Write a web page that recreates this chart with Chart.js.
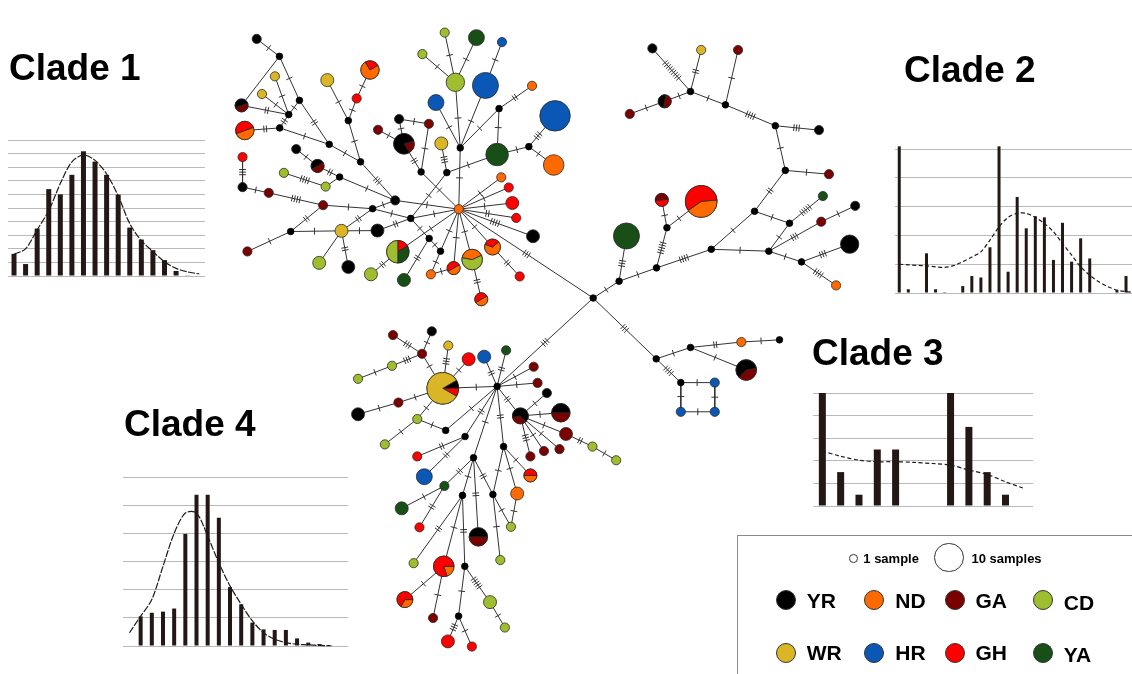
<!DOCTYPE html>
<html>
<head>
<meta charset="utf-8">
<script src="https://cdn.jsdelivr.net/npm/chart.js@4.4.1/dist/chart.umd.min.js"></script>
<style>
  html, body { margin: 0; padding: 0; background: #fff; overflow: hidden; }
  #stage { position: relative; width: 1132px; height: 674px; overflow: hidden;
           font-family: "Liberation Sans", Arial, sans-serif; color: #000; }
  #stage canvas { position: absolute; }
  .title { position: absolute; font-weight: bold; font-size: 37px; line-height: 1; white-space: nowrap; }
  .legend-box { position: absolute; left: 737px; top: 535px; width: 430px; height: 170px;
                border: 1.5px solid #8a8a8a; box-sizing: border-box; }
  .sw { position: absolute; border-radius: 50%; box-sizing: border-box; border: 1px solid #333; }
  .lab { position: absolute; font-weight: bold; white-space: nowrap; line-height: 1; }
</style>
</head>
<body>
<div id="stage">
  <canvas id="network" width="1132" height="674" style="left:0;top:0"></canvas>
  <canvas id="mm1"></canvas>
  <canvas id="mm2"></canvas>
  <canvas id="mm3"></canvas>
  <canvas id="mm4"></canvas>
  <div class="title" style="left:9px;top:49px">Clade 1</div>
  <div class="title" style="left:904px;top:51px">Clade 2</div>
  <div class="title" style="left:812px;top:334px">Clade 3</div>
  <div class="title" style="left:124px;top:405px">Clade 4</div>
  <div class="legend-box"></div>
  <div id="legend"></div>
</div>
<script>
// ---------- populations ----------
const populations = ['YR', 'ND', 'GA', 'CD', 'WR', 'HR', 'GH', 'YA'];
const popColors   = ['#000000', '#ff6a00', '#7b0000', '#9fbe2f', '#dab626', '#0a57b6', '#ff0000', '#174f17'];

// ---------- mismatch distributions (observed bars, expected curve) ----------
const clade1Observed = [1.63, 0.88, 3.49, 6.39, 6.0, 7.44, 9.17, 8.41, 7.44, 5.98, 3.56, 2.68, 1.9, 1.17, 0.37, 0.05, 0];
const clade1Expected = [1.6, 2.0, 3.4, 4.8, 6.8, 8.4, 8.9, 8.5, 7.5, 5.9, 3.85, 2.6, 1.8, 1.05, 0.56, 0.3, 0.15];

const clade2Observed = [5.1, 0.13, 0, 1.38, 0.13, 0.03, 0, 0.24, 0.59, 0.54, 1.59, 5.1, 0.74, 3.34, 2.25, 2.67, 2.63, 1.15, 2.44, 1.09, 1.9, 1.2, 0, 0, 0.1, 0.59];
const clade2Expected = [1.0, 0.98, 0.96, 0.94, 0.91, 0.89, 0.95, 1.09, 1.25, 1.43, 1.84, 2.3, 2.63, 2.77, 2.77, 2.63, 2.42, 2.13, 1.72, 1.32, 0.91, 0.62, 0.39, 0.22, 0.1, 0.05, 0.02];

const clade3Observed = [5, 1.5, 0.5, 2.5, 2.5, 0, 0, 5, 3.5, 1.5, 0.5, 0];
const clade3Expected = [2.43, 2.2, 2.03, 1.96, 1.96, 1.93, 1.88, 1.81, 1.59, 1.4, 1.07, 0.78];

const clade4Observed = [0, 1.05, 1.18, 1.22, 1.33, 3.98, 5.37, 5.37, 4.55, 2.09, 1.48, 0.83, 0.59, 0.57, 0.57, 0.27, 0.12, 0.07, 0.03];
const clade4Expected = [0.47, 1.06, 1.65, 2.83, 4.0, 4.72, 4.72, 3.9, 2.95, 2.13, 1.48, 0.89, 0.47, 0.24, 0.12, 0.06, 0.04, 0.02, 0.01];

// ---------- haplotype network: layout coordinates and sample counts ----------
const rootVector = [['root', 594, 296]];

const clade1Medians = [
  ['m1a', 416.7, 163.3], ['m1b', 443.2, 164], ['m1c', 406, 212.2], ['m1d', 425, 233.3], ['m1e', 436.7, 246.7],
  ['m1f', 457, 138], ['m1g', 497, 96.7], ['m1h', 527.7, 136.7], ['m1i', 366.7, 202], ['m1j', 354.3, 152.7],
  ['m1k', 341.7, 109.3], ['m1l', 322, 134.3], ['m1m', 332.7, 168.7], ['m1n', 282.3, 226], ['m1o', 271, 117],
  ['m1p', 280.3, 103], ['m1q', 291.3, 88], ['m1r', 270.7, 41.7]
];
const clade1Haplotypes = [
  ['c1hub', 455.5, 202.5, {ND: 1}],
  ['a1', 441, 16.7, {CD: 1}], ['a2', 473.7, 22, {YA: 3}], ['a3', 500, 26.7, {HR: 1}], ['a4', 418, 39.3, {CD: 1}],
  ['a5', 452, 69, {CD: 4}], ['a6', 483, 72.3, {HR: 8}], ['a7', 531, 72.7, {ND: 1}], ['a8', 432, 90.3, {HR: 3}],
  ['a9', 554.7, 104.3, {HR: 11}], ['a10', 394, 107.7, {YR: 1}], ['a11', 424.7, 112.7, {GA: 1}],
  ['a12', 399, 133.7, {GA: 1, YR: 4}], ['a13', 437.5, 133.3, {WR: 2}], ['a14', 495, 145, {YA: 6}],
  ['a15', 553.3, 156, {ND: 5}], ['a16', 499.3, 169, {ND: 1}], ['a17', 507, 179.7, {GH: 1}],
  ['a18', 390, 193.3, {YR: 1}], ['a19', 510.7, 196, {GH: 2}], ['a20', 514.7, 211.7, {GH: 1}],
  ['a21', 532, 231, {YR: 2}], ['a22', 392.7, 247.3, {GH: 1, YA: 2, CD: 3}], ['a23', 490.3, 242.3, {ND: 2, GH: 1}],
  ['a24', 469.3, 255.5, {CD: 3, ND: 2}], ['a25', 399, 277, {YA: 2}], ['a26', 426.7, 271, {ND: 1}],
  ['a27', 450.2, 264.5, {ND: 1, GH: 1}], ['a28', 518.3, 273.3, {GH: 1}], ['a29', 478.7, 297.3, {ND: 1, GH: 1}],
  ['a30', 372.3, 119, {GA: 1}], ['a31', 364, 56, {ND: 3, GH: 1}], ['a32', 350.3, 86, {GH: 1}],
  ['a33', 320, 66.7, {WR: 2}], ['a34', 288, 139.3, {YR: 1}], ['a35', 310, 157, {GA: 1, YR: 1}],
  ['a36', 275.3, 164.3, {CD: 1}], ['a37', 318.3, 178.7, {CD: 1}], ['a38', 232.7, 147.7, {GH: 1}],
  ['a39', 232.7, 179.3, {YR: 1}], ['a40', 259.7, 185.3, {GA: 1}], ['a41', 315.7, 198.3, {GA: 1}],
  ['a42', 334.7, 225.3, {WR: 2}], ['a43', 371.7, 225, {YR: 2}], ['a44', 237.7, 247, {GA: 1}],
  ['a45', 311.7, 259, {CD: 2}], ['a46', 341.7, 263.3, {YR: 2}], ['a47', 365, 271, {CD: 2}],
  ['a48', 247.3, 23.3, {YR: 1}], ['a49', 266, 62.7, {WR: 1}], ['a50', 252.7, 81.3, {WR: 1}],
  ['a51', 231.7, 93.3, {GA: 1, YR: 1}], ['a52', 235, 119.7, {ND: 2, GH: 2}]
];
const clade1Links = [
  ['c1hub', 'm1f', 1], ['m1f', 'a5', 1], ['a5', 'a1', 1], ['a5', 'a2', 1], ['a5', 'a4', 1], ['m1f', 'a8', 1],
  ['m1f', 'a6', 1], ['a6', 'a3', 1], ['m1f', 'm1g', 1], ['m1g', 'a7', 2], ['m1g', 'a14', 1], ['a14', 'm1h', 1],
  ['m1h', 'a9', 3], ['m1h', 'a15', 1], ['a14', 'm1b', 1], ['m1b', 'a13', 3], ['m1b', 'm1c', 1],
  ['m1a', 'c1hub', 1], ['m1a', 'a11', 1], ['m1a', 'a12', 2], ['a12', 'a10', 1], ['a10', 'a11', 1], ['a12', 'a30', 1],
  ['c1hub', 'a16', 1], ['c1hub', 'a17', 1], ['c1hub', 'a19', 1], ['c1hub', 'a20', 2], ['c1hub', 'a21', 4],
  ['c1hub', 'a23', 1], ['a23', 'a28', 2], ['c1hub', 'a24', 1], ['a24', 'a29', 2], ['c1hub', 'a27', 1],
  ['a27', 'a26', 1], ['a26', 'm1e', 1], ['m1e', 'c1hub', 1], ['m1e', 'm1d', 1], ['m1d', 'm1c', 1],
  ['m1c', 'c1hub', 1], ['m1d', 'a25', 2], ['c1hub', 'a22', 1], ['a22', 'a47', 2], ['c1hub', 'a18', 1],
  ['a18', 'm1i', 1], ['m1i', 'm1c', 1], ['m1i', 'a41', 1], ['a18', 'm1j', 3], ['m1j', 'm1k', 1], ['m1j', 'm1l', 1],
  ['m1k', 'a32', 1], ['a32', 'a31', 1], ['m1k', 'a33', 1], ['m1l', 'm1o', 1], ['m1l', 'm1q', 2],
  ['m1o', 'a52', 2], ['m1o', 'm1p', 2], ['m1p', 'a51', 2], ['m1p', 'a50', 1], ['m1p', 'a49', 1], ['m1p', 'm1q', 1],
  ['m1r', 'm1q', 1], ['m1r', 'a48', 1], ['m1r', 'a51', 0], ['a18', 'm1m', 1], ['m1m', 'a35', 2], ['a35', 'a34', 1],
  ['m1m', 'a37', 0], ['a37', 'a36', 4], ['a38', 'a39', 3], ['a39', 'a40', 1], ['a40', 'a41', 4], ['a41', 'm1n', 2],
  ['m1n', 'a44', 1], ['m1n', 'a42', 1], ['a42', 'm1i', 2], ['a42', 'a43', 1], ['a43', 'm1c', 2], ['a42', 'a45', 0],
  ['a42', 'a46', 2], ['c1hub', 'root', 3]
];

const clade2Medians = [
  ['m2a', 694.3, 78.7], ['m2b', 730.3, 92.7], ['m2c', 781.7, 114.7], ['m2d', 792, 161.7], ['m2e', 760.3, 204.7],
  ['m2f', 796.3, 217.3], ['m2g', 715.7, 244.7], ['m2h', 775, 246.7], ['m2i', 808.7, 258], ['m2j', 659.3, 264.3],
  ['m2k', 670, 222], ['m2l', 620.7, 278.3]
];
const clade2Haplotypes = [
  ['b1', 655, 33.3, {YR: 1}], ['b2', 705.3, 35, {WR: 1}], ['b3', 743.3, 35, {GA: 1}],
  ['b4', 667.7, 89, {GA: 1, YR: 1}], ['b5', 631.7, 102.3, {GA: 1}], ['b6', 826.7, 119.3, {YR: 1}],
  ['b7', 837, 165.7, {GA: 1}], ['b8', 830.7, 188.7, {YA: 1}], ['b9', 864, 199, {YR: 1}],
  ['b10', 829, 215.7, {GA: 1}], ['b11', 858.3, 239.3, {YR: 4}], ['b12', 844.3, 282.7, {ND: 1}],
  ['b13', 664.7, 192.7, {GH: 1, GA: 1}], ['b14', 705.3, 194.3, {ND: 5, GH: 7}], ['b15', 628.3, 230.7, {YA: 8}]
];
const clade2Links = [
  ['b1', 'm2a', 9], ['b2', 'm2a', 2], ['m2a', 'b4', 1], ['b4', 'b5', 1], ['m2a', 'm2b', 1], ['b3', 'm2b', 1],
  ['m2b', 'm2c', 4], ['m2c', 'b6', 3], ['m2c', 'm2d', 1], ['m2d', 'b7', 1], ['m2d', 'm2e', 2], ['m2e', 'm2f', 1],
  ['m2f', 'b8', 5], ['m2f', 'm2h', 1], ['m2e', 'm2g', 1], ['m2g', 'm2h', 1], ['m2h', 'b10', 3], ['b10', 'b9', 1],
  ['m2h', 'm2i', 1], ['m2i', 'b11', 3], ['m2i', 'b12', 4], ['m2g', 'm2j', 4], ['m2j', 'm2k', 5], ['m2k', 'b13', 1],
  ['m2k', 'b14', 1], ['m2j', 'm2l', 1], ['m2l', 'b15', 3], ['m2l', 'root', 1]
];

const clade3Medians = [['m3a', 659, 360], ['m3b', 694.3, 348], ['m3c', 684.3, 385], ['m3d', 786, 340]];
const clade3Haplotypes = [
  ['c1', 746.7, 342.3, {ND: 1}], ['c2', 751.7, 371.7, {GA: 2, YR: 3}], ['c3', 719.3, 385, {HR: 1}],
  ['c4', 684.3, 415.7, {HR: 1}], ['c5', 719.3, 415.7, {HR: 1}]
];
const clade3Links = [
  ['root', 'm3a', 3], ['m3a', 'm3b', 1], ['m3b', 'c1', 2], ['c1', 'm3d', 1], ['m3b', 'c2', 1], ['m3a', 'm3c', 4],
  ['m3c', 'c3', 1], ['m3c', 'c4', 1], ['c3', 'c5', 1], ['c4', 'c5', 1]
];

const clade4Medians = [
  ['m4a', 495, 389], ['m4b', 442, 435.3], ['m4c', 462, 441.7], ['m4d', 470.7, 464], ['m4e', 459.3, 503.7],
  ['m4f', 501.7, 452.3], ['m4g', 490.7, 502.7], ['m4h', 461.7, 578.3], ['m4i', 455.3, 630.7]
];
const clade4Haplotypes = [
  ['d1', 439, 391, {YR: 1, GH: 1, WR: 10}], ['d2', 444.7, 346, {WR: 1}], ['d3', 465.7, 360.3, {GH: 2}],
  ['d4', 417.7, 354.7, {GA: 1}], ['d5', 427.7, 331, {YR: 1}], ['d6', 387.7, 335, {GA: 1}],
  ['d7', 386.7, 367.3, {CD: 1}], ['d8', 351.7, 381, {CD: 1}], ['d9', 481.7, 357.7, {HR: 2}],
  ['d10', 504.3, 351, {YA: 1}], ['d11', 393.3, 406, {GA: 1}], ['d12', 351.7, 418.3, {YR: 2}],
  ['d13', 412.7, 423.3, {CD: 1}], ['d14', 379.3, 450, {CD: 1}], ['d15', 412.7, 462.7, {GH: 1}],
  ['d16', 420, 484, {HR: 3}], ['d17', 440.7, 493.7, {YA: 1}], ['d18', 396.7, 517.3, {YA: 2}],
  ['d19', 415, 537.3, {GH: 1}], ['d20', 475.7, 547.3, {GA: 2, YR: 2}], ['d21', 409, 575, {CD: 1}],
  ['d22', 440, 578.3, {ND: 1, GH: 4}], ['d23', 487.7, 616, {CD: 2}], ['d24', 503, 642.7, {CD: 1}],
  ['d25', 400, 613.3, {ND: 1, GH: 2}], ['d26', 429, 632.7, {GA: 1}], ['d27', 444.3, 657.3, {GH: 2}],
  ['d28', 469, 662.7, {GH: 1}], ['d29', 532.7, 368.3, {GA: 1}], ['d30', 536.7, 385.3, {GA: 1}],
  ['d31', 546.3, 396, {YR: 1}], ['d32', 519, 420, {GA: 1, YR: 2}], ['d33', 560.7, 416.7, {GA: 2, YR: 2}],
  ['d34', 566, 439, {GA: 2}], ['d35', 529.3, 462.7, {GA: 1}], ['d36', 543.3, 457, {GA: 1}],
  ['d37', 559.3, 455, {GA: 1}], ['d38', 593.3, 452.3, {CD: 1}], ['d39', 617.7, 466.7, {CD: 1}],
  ['d40', 529.3, 482.7, {ND: 1, GH: 1}], ['d41', 515.7, 501.7, {ND: 2}], ['d42', 509.3, 536.7, {CD: 1}],
  ['d43', 498.3, 571.7, {CD: 1}]
];
const clade4Links = [
  ['root', 'm4a', 3], ['m4a', 'd1', 1], ['d1', 'd2', 3], ['d1', 'd3', 1], ['d1', 'd4', 1], ['d4', 'd5', 1],
  ['d4', 'd6', 3], ['d4', 'd7', 3], ['d7', 'd8', 1], ['d1', 'd11', 1], ['d11', 'd12', 1], ['d1', 'd13', 1],
  ['d13', 'd14', 1], ['d13', 'm4b', 1], ['m4b', 'm4a', 1], ['m4a', 'm4c', 2], ['m4c', 'd15', 2], ['m4c', 'd16', 2],
  ['m4a', 'd9', 2], ['m4a', 'd10', 2], ['m4a', 'm4d', 1], ['m4d', 'd17', 2], ['d17', 'd18', 1], ['d17', 'd19', 2],
  ['m4d', 'm4e', 1], ['m4d', 'd20', 2], ['m4d', 'm4g', 2], ['m4e', 'd21', 2], ['m4e', 'd22', 1], ['m4e', 'm4h', 2],
  ['d22', 'd25', 1], ['d22', 'd26', 1], ['m4h', 'd23', 5], ['d23', 'd24', 1], ['m4h', 'm4i', 1], ['m4i', 'd27', 3],
  ['m4i', 'd28', 1], ['m4a', 'd29', 1], ['m4a', 'd30', 1], ['m4a', 'd32', 2], ['d32', 'd31', 1], ['d32', 'd33', 1],
  ['d32', 'd34', 1], ['d32', 'd37', 1], ['d32', 'd36', 1], ['d32', 'd35', 3], ['d34', 'd38', 2], ['d38', 'd39', 1],
  ['m4a', 'm4f', 2], ['m4f', 'd40', 1], ['m4f', 'd41', 1], ['m4f', 'm4g', 1], ['m4g', 'd42', 1], ['d41', 'd42', 1],
  ['m4g', 'd43', 1]
];

// orientation (degrees, clockwise from east) of the first wedge of each mixed haplotype
const pieStartAngle = {
  a12: -15, a22: -90, a23: -40, a24: -25, a27: -30, a29: -30, a31: -30, a35: -30, a51: -20, a52: -20,
  b4: -80, b13: -5, b14: -5, c2: -10,
  d1: -30, d20: 0, d22: 0, d25: 0, d32: 50, d33: 0, d40: 0
};

// ---------- assemble network ----------
const medians = [...rootVector, ...clade1Medians, ...clade2Medians, ...clade3Medians, ...clade4Medians];
const haplotypes = [...clade1Haplotypes, ...clade2Haplotypes, ...clade3Haplotypes, ...clade4Haplotypes];
const links = [...clade1Links, ...clade2Links, ...clade3Links, ...clade4Links];

const ONE_SAMPLE_R = 4.6;   // radius of a single-sample circle; area grows with sample count
const MEDIAN_R = 3.3;
const colorOf = p => popColors[populations.indexOf(p)];
const totalOf = counts => Object.values(counts).reduce((s, v) => s + v, 0);

const nodes = {};
medians.forEach(([id, x, y]) => { nodes[id] = {x, y, r: MEDIAN_R, median: true}; });
haplotypes.forEach(([id, x, y, counts]) => {
  nodes[id] = {x, y, r: ONE_SAMPLE_R * Math.sqrt(totalOf(counts)), counts};
});

const nodeOrder = [...medians.map(m => m[0]), ...haplotypes.map(h => h[0])];
const nodePoints = nodeOrder.map(id => ({x: nodes[id].x, y: nodes[id].y}));
const nodeRadii = nodeOrder.map(id => nodes[id].r);
const nodeFill = nodeOrder.map(id => nodes[id].median ? '#000' : colorOf(Object.keys(nodes[id].counts)[0]));
const nodeStroke = nodeOrder.map(id => nodes[id].median ? '#000' : '#2b2b2b');

const edgePoints = [];
links.forEach(([a, b]) => {
  edgePoints.push({x: nodes[a].x, y: nodes[a].y}, {x: nodes[b].x, y: nodes[b].y}, {x: null, y: null});
});

// mutation steps drawn as short cross-ticks centred on the visible part of each link
const hatchPlugin = {
  id: 'mutationHatches',
  afterDatasetDraw(chart, args) {
    if (args.index !== 0) return;
    const {ctx, scales: {x: xs, y: ys}} = chart;
    ctx.save();
    ctx.strokeStyle = '#333';
    ctx.lineWidth = 1;
    links.forEach(([a, b, n]) => {
      if (!n) return;
      const A = nodes[a], B = nodes[b];
      const ax = xs.getPixelForValue(A.x), ay = ys.getPixelForValue(A.y);
      const bx = xs.getPixelForValue(B.x), by = ys.getPixelForValue(B.y);
      const L = Math.hypot(bx - ax, by - ay);
      const ux = (bx - ax) / L, uy = (by - ay) / L;
      const mid = (A.r + (L - B.r)) / 2;
      const gap = 2.6, half = 3.4;
      for (let j = 0; j < n; j++) {
        const t = mid + (j - (n - 1) / 2) * gap;
        const cx = ax + ux * t, cy = ay + uy * t;
        ctx.beginPath();
        ctx.moveTo(cx - uy * half, cy + ux * half);
        ctx.lineTo(cx + uy * half, cy - ux * half);
        ctx.stroke();
      }
    });
    ctx.restore();
  }
};

// haplotypes shared by several populations are split into wedges
const piePlugin = {
  id: 'haplotypePies',
  afterDatasetsDraw(chart) {
    const {ctx, scales: {x: xs, y: ys}} = chart;
    ctx.save();
    haplotypes.forEach(([id, , , counts]) => {
      const parts = Object.entries(counts);
      if (parts.length < 2) return;
      const nd = nodes[id];
      const cx = xs.getPixelForValue(nd.x), cy = ys.getPixelForValue(nd.y);
      const total = totalOf(counts);
      let ang = (pieStartAngle[id] || 0) * Math.PI / 180;
      parts.forEach(([pop, c]) => {
        const sweep = c / total * Math.PI * 2;
        ctx.beginPath();
        ctx.moveTo(cx, cy);
        ctx.arc(cx, cy, nd.r, ang, ang + sweep);
        ctx.closePath();
        ctx.fillStyle = colorOf(pop);
        ctx.fill();
        ctx.strokeStyle = '#2b2b2b';
        ctx.lineWidth = 0.8;
        ctx.stroke();
        ang += sweep;
      });
    });
    ctx.restore();
  }
};

new Chart(document.getElementById('network'), {
  type: 'scatter',
  data: {
    datasets: [
      {data: edgePoints, showLine: true, spanGaps: false, borderColor: '#333', borderWidth: 1,
       pointRadius: 0, order: 2, clip: false},
      {data: nodePoints, pointRadius: nodeRadii, pointBackgroundColor: nodeFill, pointBorderColor: nodeStroke,
       pointBorderWidth: 0.8, order: 1, clip: false}
    ]
  },
  options: {
    responsive: false, animation: false, events: [],
    layout: {padding: 0},
    plugins: {legend: {display: false}, tooltip: {enabled: false}},
    scales: {
      x: {type: 'linear', min: 0, max: 1132, display: false},
      y: {type: 'linear', min: 0, max: 674, reverse: true, display: false}
    }
  },
  plugins: [hatchPlugin, piePlugin]
});

// ---------- mismatch distribution panels ----------
function mismatchPanel(id, box, xRange, yMax, observed, expected, barPx, dash) {
  const pad = 6;
  const cv = document.getElementById(id);
  cv.width = Math.round(box.w + 2 * pad);
  cv.height = Math.round(box.h + 2 * pad);
  cv.style.left = (box.x - pad) + 'px';
  cv.style.top = (box.y - pad) + 'px';
  new Chart(cv, {
    type: 'bar',
    data: {
      datasets: [
        {type: 'line', data: expected.map((v, i) => ({x: i, y: v})), borderColor: '#1e1a18', borderWidth: 1.2,
         borderDash: dash, pointRadius: 0, tension: 0.3, order: 0, clip: pad},
        {type: 'bar', data: observed.map((v, i) => ({x: i, y: v})), backgroundColor: '#231815',
         barThickness: barPx, inflateAmount: 0, borderWidth: 0, order: 1, clip: pad}
      ]
    },
    options: {
      responsive: false, animation: false, events: [],
      layout: {padding: pad},
      plugins: {legend: {display: false}, tooltip: {enabled: false}},
      scales: {
        x: {type: 'linear', min: xRange[0], max: xRange[1], display: false, offset: false,
            grid: {offset: false}},
        y: {type: 'linear', min: 0, max: yMax, display: true,
            ticks: {display: false, stepSize: 1, includeBounds: false},
            border: {display: false},
            grid: {color: '#b9b9b9', lineWidth: 1, drawTicks: false},
            afterFit(s) { s.width = 0; }}
      }
    }
  });
}

mismatchPanel('mm1', {x: 8, y: 140, w: 197, h: 136}, [-0.52, 16.5], 10, clade1Observed, clade1Expected, 5, [7, 1.5]);
mismatchPanel('mm2', {x: 895, y: 141.8, w: 237, h: 151.2}, [-0.47, 25.66], 5.25, clade2Observed, clade2Expected, 3, [4, 2.5]);
mismatchPanel('mm3', {x: 813, y: 392.7, w: 220, h: 113.3}, [-0.51, 11.5], 5, clade3Observed, clade3Expected, 7, [4, 2.5]);
mismatchPanel('mm4', {x: 123, y: 477.3, w: 225, h: 169.4}, [-0.58, 19.56], 6, clade4Observed, clade4Expected, 4, [7, 1.5]);

// ---------- legend ----------
const legend = document.getElementById('legend');
function addSwatch(cx, cy, r, fill) {
  const d = document.createElement('div');
  d.className = 'sw';
  Object.assign(d.style, {left: (cx - r) + 'px', top: (cy - r) + 'px', width: 2 * r + 'px', height: 2 * r + 'px', background: fill});
  legend.appendChild(d);
}
function addLabel(x, cy, size, text) {
  const d = document.createElement('div');
  d.className = 'lab';
  d.textContent = text;
  Object.assign(d.style, {left: x + 'px', top: (cy - 0.49 * size) + 'px', fontSize: size + 'px'});
  legend.appendChild(d);
}
addSwatch(853.3, 558.3, ONE_SAMPLE_R * 0.95, '#fff');
addLabel(863.3, 558.3, 13, '1 sample');
addSwatch(949, 557.5, ONE_SAMPLE_R * Math.sqrt(10), '#fff');
addLabel(971.5, 558.3, 13, '10 samples');
const legendCols = [785.7, 874.3, 954.5, 1042.8];
const legendRows = [600, 652.5];
populations.forEach((p, i) => {
  const cx = legendCols[i % 4], cy = legendRows[Math.floor(i / 4)];
  addSwatch(cx, cy, 10, popColors[i]);
  addLabel(cx + 21, cy + (i % 4 === 3 ? 2 : 0), 21, p);
});
</script>
</body>
</html>
